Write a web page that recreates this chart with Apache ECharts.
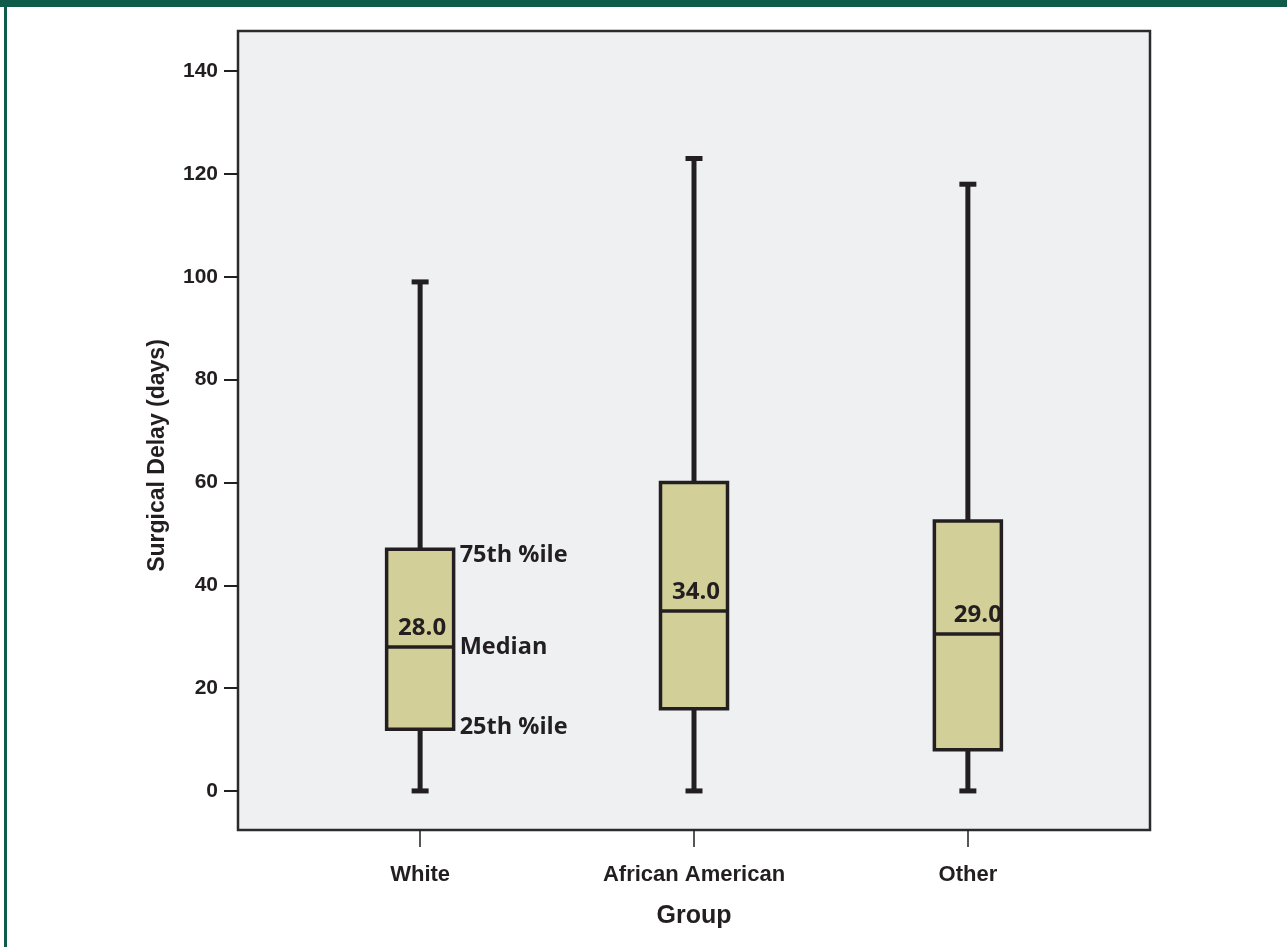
<!DOCTYPE html>
<html>
<head>
<meta charset="utf-8">
<script src="https://cdn.jsdelivr.net/npm/echarts@6/dist/echarts.min.js"></script>
<style>
html,body{margin:0;padding:0;background:#fff;}
#c{width:1287px;height:947px;}
</style>
</head>
<body>
<div id="c"></div>
<script>
// ---- data ----
var categories = ['White', 'African American', 'Other'];
var whiskerMin = [0, 0, 0];
var q1 = [12, 16, 8];
var median = [28, 35, 30.5];
var q3 = [47, 60, 52.5];
var whiskerMax = [99, 123, 118];
var medianLabels = ['28.0', '34.0', '29.0'];
var yTicks = [0, 20, 40, 60, 80, 100, 120, 140];
var annotations = ['75th %ile', 'Median', '25th %ile'];

// ---- styles ----
var INK = '#231F20';
var BOX_FILL = '#D3CF98';
var GREEN = '#0F5C4A';

var seriesData = categories.map(function (c, i) {
  return [i + 1, whiskerMin[i], q1[i], median[i], q3[i], whiskerMax[i]];
});

function renderItem(params, api) {
  var i = params.dataIndex;
  var x = api.value(0);
  var pMin = api.coord([x, api.value(1)]);
  var pQ1 = api.coord([x, api.value(2)]);
  var pMed = api.coord([x, api.value(3)]);
  var pQ3 = api.coord([x, api.value(4)]);
  var pMax = api.coord([x, api.value(5)]);
  var cx = pMed[0];
  var halfBox = 33.5, halfCap = 8.5;
  var children = [
    {type: 'line', shape: {x1: cx, y1: pMax[1], x2: cx, y2: pQ3[1]}, style: {stroke: INK, lineWidth: 5}},
    {type: 'line', shape: {x1: cx, y1: pQ1[1], x2: cx, y2: pMin[1]}, style: {stroke: INK, lineWidth: 5}},
    {type: 'line', shape: {x1: cx - halfCap, y1: pMax[1], x2: cx + halfCap, y2: pMax[1]}, style: {stroke: INK, lineWidth: 5}},
    {type: 'line', shape: {x1: cx - halfCap, y1: pMin[1], x2: cx + halfCap, y2: pMin[1]}, style: {stroke: INK, lineWidth: 5}},
    {type: 'rect', shape: {x: cx - halfBox, y: pQ3[1], width: 2 * halfBox, height: pQ1[1] - pQ3[1]},
      style: {fill: BOX_FILL, stroke: INK, lineWidth: 3.5}},
    {type: 'line', shape: {x1: cx - halfBox, y1: pMed[1], x2: cx + halfBox, y2: pMed[1]}, style: {stroke: INK, lineWidth: 3.5}},
    {type: 'text', style: {text: medianLabels[i], x: cx + 2 + (i === 2 ? 8 : 0), y: pMed[1] - 19,
      font: 'bold 24px "Open Sans"', fill: INK, align: 'center', verticalAlign: 'middle',
      textAlign: 'center', textVerticalAlign: 'middle'}}
  ];
  if (i === 0) {
    var tx = cx + halfBox + 6;
    var ys = [pQ3[1] + 6, pMed[1], pQ1[1] - 2];
    for (var k = 0; k < 3; k++) {
      children.push({type: 'text', style: {text: annotations[k], x: tx, y: ys[k],
        font: 'bold 23.5px "Open Sans"', fill: INK, align: 'left', verticalAlign: 'middle',
        textAlign: 'left', textVerticalAlign: 'middle'}});
    }
  }
  return {type: 'group', children: children};
}

var chart = echarts.init(document.getElementById('c'), null, {renderer: 'canvas'});
chart.setOption({
  animation: false,
  backgroundColor: '#ffffff',
  graphic: [
    {type: 'rect', left: 0, top: 0, shape: {width: 1287, height: 7}, style: {fill: GREEN}, z: 100},
    {type: 'rect', left: 4, top: 0, shape: {width: 3, height: 947}, style: {fill: GREEN}, z: 100}
  ],
  grid: {
    left: 238, right: 137, top: 31, bottom: 117,
    show: true, backgroundColor: '#EFF0F2', borderColor: '#2b2b2b', borderWidth: 2.5
  },
  xAxis: {
    type: 'value', min: 0.335, max: 3.665,
    name: 'Group', nameLocation: 'middle', nameGap: 74,
    nameTextStyle: {fontFamily: 'Liberation Sans', fontWeight: 'bold', fontSize: 25, color: INK},
    splitLine: {show: false},
    axisLine: {show: false, onZero: false},
    axisTick: {show: true, inside: false, length: 17, lineStyle: {color: INK, width: 1.5}, customValues: [1, 2, 3]},
    axisLabel: {
      show: true, margin: 34, customValues: [1, 2, 3],
      fontFamily: 'Liberation Sans', fontWeight: 'bold', fontSize: 22, color: INK,
      formatter: function (v) { return categories[Math.round(v) - 1] || ''; }
    }
  },
  yAxis: {
    type: 'value', min: -7.6, max: 147.8,
    name: 'Surgical Delay (days)', nameLocation: 'middle', nameGap: 69,
    nameTextStyle: {fontFamily: 'Liberation Sans', fontWeight: 'bold', fontSize: 23, color: INK,
      padding: [0, 50, 0, 0]},
    splitLine: {show: false},
    axisLine: {show: false, onZero: false},
    axisTick: {show: true, inside: false, length: 14, lineStyle: {color: INK, width: 2}, customValues: yTicks},
    axisLabel: {
      show: true, margin: 20, customValues: yTicks,
      fontFamily: 'Liberation Sans', fontWeight: 'bold', fontSize: 21, color: INK
    }
  },
  series: [{
    type: 'custom',
    renderItem: renderItem,
    clip: false,
    data: seriesData
  }]
});
</script>
</body>
</html>
